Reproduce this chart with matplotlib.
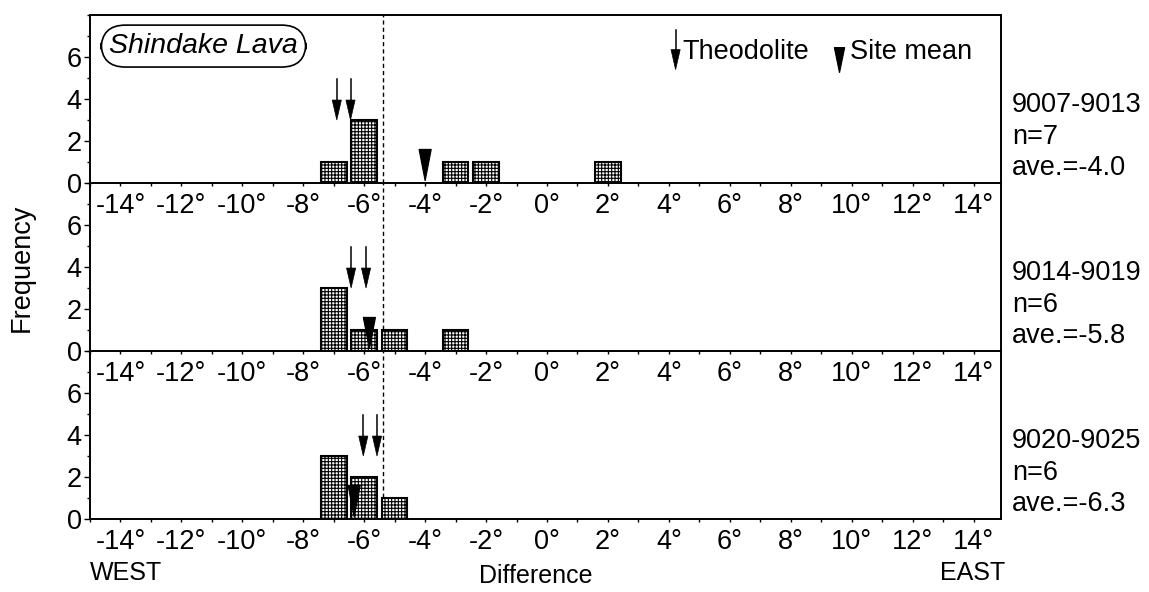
import matplotlib
matplotlib.use('Agg')
import matplotlib.pyplot as plt
import matplotlib.transforms as mtransforms
from matplotlib.ticker import MultipleLocator, FuncFormatter
import numpy as np

plt.rcParams['font.family'] = ['Liberation Sans', 'DejaVu Sans']
plt.rcParams['hatch.linewidth'] = 0.8

# data
bins = [-7, -6, -5, -4, -3, -2, -1, 0, 1, 2]
counts_1 = [1, 3, 0, 0, 1, 1, 0, 0, 0, 1]
counts_2 = [3, 1, 1, 0, 1, 0, 0, 0, 0, 0]
counts_3 = [3, 2, 1, 0, 0, 0, 0, 0, 0, 0]
theo_1 = [-6.9, -6.45]
theo_2 = [-6.43, -5.94]
theo_3 = [-6.03, -5.58]
site_mean = [-4.0, -5.83, -6.33]
site_names = ['9007-9013', '9014-9019', '9020-9025']

counts = [counts_1, counts_2, counts_3]
theos = [theo_1, theo_2, theo_3]
overall_mean = np.mean(site_mean)

W, H = 1149, 592
fig = plt.figure(figsize=(W / 100, H / 100), dpi=100)

left, right = 90, 1001
tops = [15, 183, 351]
panel_h = 168
fs = 19.5


def tri(ax, x, top, tip, half_w):
    ax.fill([x - half_w, x + half_w, x], [top, top, tip], color='black',
            lw=0.8, zorder=4)


def arrow(ax, x, y0, y1):
    head = 0.95
    ax.plot([x, x], [y0, y1 + head * 0.5], color='black', lw=1.1, zorder=4)
    ax.fill([x - 0.15, x + 0.15, x], [y1 + head, y1 + head, y1],
            color='black', lw=0.5, zorder=4)


axes = []
for i in range(3):
    ax = fig.add_axes([left / W, 1 - (tops[i] + panel_h) / H,
                       (right - left) / W, panel_h / H])
    ax.patch.set_alpha(0)
    axes.append(ax)

    c = np.array(counts[i])
    b = np.array(bins)
    mask = c > 0
    ax.bar(b[mask], c[mask], width=0.84, facecolor='white', edgecolor='black',
           hatch='+++++', lw=1.5, zorder=2)

    # dashed line at the mean of the three site means
    ax.axvline(overall_mean, color='black', lw=1.0, ls=(0, (3, 2.2)), zorder=1)

    for t in theos[i]:
        arrow(ax, t, 4.95, 3.0)
    tri(ax, site_mean[i], 1.6, 0.1, 0.2)

    ax.set_xlim(-15, 14.9)
    ax.set_ylim(0, 8)

    for s in ['left', 'right', 'bottom']:
        ax.spines[s].set_linewidth(1.4)
    ax.spines['top'].set_visible(i == 0)
    ax.spines['top'].set_linewidth(1.4)

    ax.xaxis.set_major_locator(MultipleLocator(1))
    ax.xaxis.set_major_formatter(FuncFormatter(
        lambda v, p: f'{int(round(v))}°' if int(round(v)) % 2 == 0 else ''))
    ax.yaxis.set_major_locator(MultipleLocator(2))
    ax.yaxis.set_minor_locator(MultipleLocator(1))
    ax.tick_params(axis='x', direction='out', length=2.5, width=1.0,
                   labelsize=fs, pad=5)
    ax.tick_params(axis='y', which='major', direction='out', length=4.5,
                   width=1.0, labelsize=fs, pad=1.5)
    ax.tick_params(axis='y', which='minor', direction='out', length=2.5,
                   width=1.0)
    ax.set_yticks([0, 2, 4, 6])

    # right side labels
    tr = mtransforms.blended_transform_factory(ax.transAxes, ax.transData)
    lines = [site_names[i], f'n={int(c.sum())}', f'ave.={site_mean[i]:.1f}']
    for txt, y in zip(lines, [3.38, 1.88, 0.38]):
        ax.text(1.012, y, txt, transform=tr, ha='left', va='baseline',
                fontsize=fs)

ax1 = axes[0]
ax1.text(0.021, 0.815, 'Shindake Lava', transform=ax1.transAxes,
         fontsize=20.5, style='italic', ha='left', va='center',
         bbox=dict(boxstyle='round,pad=0.28,rounding_size=0.85',
                   facecolor='white', edgecolor='black', lw=1.2))

# legend
arrow(ax1, 4.22, 7.3, 5.4)
ax1.text(4.45, 6.25, 'Theodolite', fontsize=fs, ha='left', va='center')
tri(ax1, 9.6, 6.45, 5.25, 0.17)
ax1.text(9.93, 6.25, 'Site mean', fontsize=fs, ha='left', va='center')

fig.text(22 / W, 1 - 268 / H, 'Frequency', rotation=90, fontsize=fs,
         ha='center', va='center')
fig.text(90 / W, 1 - 573 / H, 'WEST', fontsize=18, ha='left', va='center')
fig.text(1005 / W, 1 - 573 / H, 'EAST', fontsize=18, ha='right', va='center')
fig.text(536 / W, 1 - 576 / H, 'Difference', fontsize=18, ha='center',
         va='center')

fig.savefig('out.png', dpi=100)
